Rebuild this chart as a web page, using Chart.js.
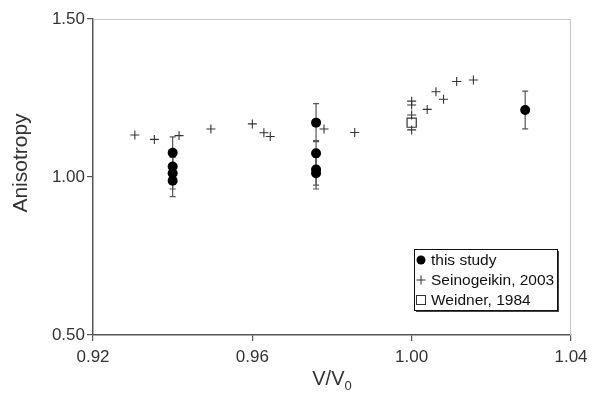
<!DOCTYPE html>
<html lang="en">
<head>
<meta charset="UTF-8">
<title>Anisotropy vs V/V0</title>
<script src="https://cdn.jsdelivr.net/npm/chart.js@4"></script>
<style>
  html, body { margin: 0; padding: 0; background: #fff; }
  #wrap { width: 606px; height: 395px; }
</style>
</head>
<body>
<div id="wrap"><canvas id="c" width="606" height="395"></canvas></div>
<script>
  // this study (filled circles, with error bars)
  const studyX = [0.94, 0.94, 0.94, 0.94, 0.976, 0.976, 0.976, 0.976, 1.0285];
  const studyY = [1.077, 1.033, 1.012, 0.988, 1.172, 1.075, 1.024, 1.012, 1.212];
  const studyErr = [0.05, 0.05, 0.05, 0.05, 0.06, 0.04, 0.05, 0.05, 0.06];

  // Seinogeikin, 2003 (crosses)
  const seinoX = [0.9305, 0.9354, 0.9416, 0.9496, 0.960, 0.9629, 0.9645, 0.978, 0.9857,
                  1.000, 1.000, 1.000, 1.000, 1.0039, 1.0061, 1.008, 1.0113, 1.0155];
  const seinoY = [1.133, 1.119, 1.131, 1.152, 1.168, 1.140, 1.128, 1.152, 1.141,
                  1.240, 1.228, 1.196, 1.149, 1.214, 1.270, 1.246, 1.302, 1.307];

  // Weidner, 1984 (open square)
  const weidnerX = [1.000];
  const weidnerY = [1.172];

  const xTicks = [0.92, 0.96, 1.00, 1.04];
  const yTicks = [0.50, 1.00, 1.50];

  const labels = ['this study', 'Seinogeikin, 2003', 'Weidner, 1984'];

  const FONT = '"Liberation Sans", Arial, sans-serif';
  const AXIS = '#555';

  function pts(xs, ys) {
    return xs.map((x, i) => ({ x: x, y: ys[i] }));
  }

  const errorBars = {
    id: 'errorBars',
    beforeDatasetsDraw(chart) {
      const ctx = chart.ctx;
      const xs = chart.scales.x, ys = chart.scales.y;
      ctx.save();
      ctx.strokeStyle = '#555';
      ctx.lineWidth = 1.2;
      for (let i = 0; i < studyX.length; i++) {
        const px = xs.getPixelForValue(studyX[i]);
        const top = ys.getPixelForValue(studyY[i] + studyErr[i]);
        const bot = ys.getPixelForValue(studyY[i] - studyErr[i]);
        ctx.beginPath();
        ctx.moveTo(px, top); ctx.lineTo(px, bot);
        ctx.moveTo(px - 3, top); ctx.lineTo(px + 3, top);
        ctx.moveTo(px - 3, bot); ctx.lineTo(px + 3, bot);
        ctx.stroke();
      }
      ctx.restore();
    }
  };

  const frameAndLegend = {
    id: 'frameAndLegend',
    afterDraw(chart) {
      const ctx = chart.ctx;
      const a = chart.chartArea;
      ctx.save();
      // light top and right border
      ctx.strokeStyle = '#c4c4c4';
      ctx.lineWidth = 1;
      ctx.beginPath();
      ctx.moveTo(a.left, a.top + 0.5);
      ctx.lineTo(a.right - 0.5, a.top + 0.5);
      ctx.lineTo(a.right - 0.5, a.bottom);
      ctx.stroke();

      // y axis title
      ctx.fillStyle = '#333';
      ctx.font = '21px ' + FONT;
      ctx.textAlign = 'center';
      ctx.textBaseline = 'middle';
      ctx.save();
      ctx.translate(21, 163);
      ctx.rotate(-Math.PI / 2);
      ctx.fillText('Anisotropy', 0, 0);
      ctx.restore();

      // x axis title with subscript
      ctx.textAlign = 'left';
      ctx.textBaseline = 'alphabetic';
      const main = 'V/V';
      ctx.font = '20px ' + FONT;
      const w1 = ctx.measureText(main).width;
      ctx.font = '13px ' + FONT;
      const w2 = ctx.measureText('0').width;
      const cx = (a.left + a.right) / 2;
      const x0 = cx - (w1 + w2) / 2;
      ctx.font = '20px ' + FONT;
      ctx.fillText(main, x0, 385);
      ctx.font = '13px ' + FONT;
      ctx.fillText('0', x0 + w1, 390);

      // legend box with shadow
      const L = 414, T = 249, W = 143, H = 61;
      ctx.fillStyle = '#444';
      ctx.fillRect(L + 2, T + 2, W, H);
      ctx.fillStyle = '#fff';
      ctx.fillRect(L, T, W, H);
      ctx.strokeStyle = '#111';
      ctx.lineWidth = 1;
      ctx.strokeRect(L + 0.5, T + 0.5, W, H);

      const mx = 421, tx = 431;
      const rows = [260, 280, 300];
      ctx.font = '15.5px ' + FONT;
      ctx.textBaseline = 'middle';
      ctx.fillStyle = '#111';
      labels.forEach((t, i) => ctx.fillText(t, tx, rows[i] + 1));

      // markers
      ctx.fillStyle = '#000';
      ctx.beginPath();
      ctx.arc(mx, rows[0], 4.5, 0, Math.PI * 2);
      ctx.fill();
      ctx.strokeStyle = '#333';
      ctx.beginPath();
      ctx.moveTo(mx - 4.5, rows[1]); ctx.lineTo(mx + 4.5, rows[1]);
      ctx.moveTo(mx, rows[1] - 4.5); ctx.lineTo(mx, rows[1] + 4.5);
      ctx.stroke();
      ctx.strokeRect(mx - 4.5, rows[2] - 4.5, 9, 9);
      ctx.restore();
    }
  };

  new Chart(document.getElementById('c'), {
    type: 'scatter',
    data: {
      datasets: [
        {
          label: labels[1],
          data: pts(seinoX, seinoY),
          pointStyle: 'cross',
          pointRadius: 4.5,
          borderColor: '#333',
          borderWidth: 1.1
        },
        {
          label: labels[2],
          data: pts(weidnerX, weidnerY),
          pointStyle: 'rect',
          pointRadius: 6.5,
          backgroundColor: '#fff',
          borderColor: '#333',
          borderWidth: 1.2
        },
        {
          label: labels[0],
          data: pts(studyX, studyY),
          pointStyle: 'circle',
          pointRadius: 5,
          backgroundColor: '#000',
          borderColor: '#000',
          borderWidth: 0
        }
      ]
    },
    options: {
      responsive: false,
      animation: false,
      devicePixelRatio: 1,
      layout: { padding: { top: 19, right: 35, left: 0, bottom: 0 } },
      plugins: {
        legend: { display: false },
        tooltip: { enabled: false }
      },
      scales: {
        x: {
          type: 'linear',
          min: 0.92,
          max: 1.04,
          afterBuildTicks: s => { s.ticks = xTicks.map(v => ({ value: v })); },
          afterFit: s => { s.height = 60; },
          ticks: {
            callback: v => v.toFixed(2),
            font: { family: FONT, size: 17 },
            color: '#333',
            padding: 6,
            maxRotation: 0
          },
          grid: { drawOnChartArea: false, drawTicks: true, tickLength: 6, color: AXIS, lineWidth: 1.2 },
          border: { display: true, color: AXIS, width: 1.5 }
        },
        y: {
          type: 'linear',
          min: 0.5,
          max: 1.5,
          afterBuildTicks: s => { s.ticks = yTicks.map(v => ({ value: v })); },
          afterFit: s => { s.width = 93; },
          ticks: {
            callback: v => v.toFixed(2),
            font: { family: FONT, size: 17 },
            color: '#333',
            padding: 2
          },
          grid: { drawOnChartArea: false, drawTicks: true, tickLength: 6, color: AXIS, lineWidth: 1.2 },
          border: { display: true, color: AXIS, width: 1.5 }
        }
      }
    },
    plugins: [errorBars, frameAndLegend]
  });
</script>
</body>
</html>
